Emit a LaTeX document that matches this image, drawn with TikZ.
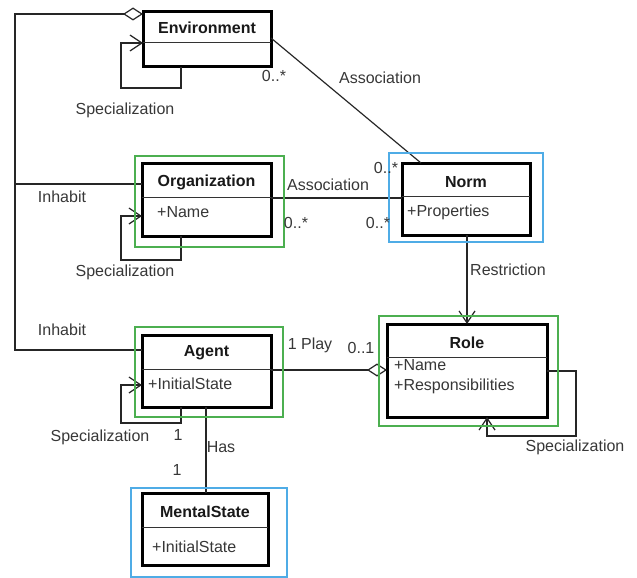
\documentclass[tikz,border=0pt]{standalone}
\usepackage{fontspec}
\setmainfont{Liberation Sans}
\usetikzlibrary{arrows.meta}
\definecolor{framegreen}{RGB}{76,175,80}
\definecolor{frameblue}{RGB}{79,172,230}
\definecolor{labelgray}{RGB}{55,55,55}
\begin{document}
\begin{tikzpicture}[x=1pt,y=-1pt,
  txt/.style={font=\fontsize{16}{19}\selectfont,inner sep=0pt},
  classbox/.style={draw=black,line width=3pt,fill=white,inner sep=0pt,outer sep=0pt},
  title/.style={txt,font=\fontsize{16}{19}\selectfont\bfseries,text=black!90},
  attr/.style={txt,text=labelgray,anchor=west},
  lbl/.style={txt,text=labelgray},
  divider/.style={line width=1pt,black!80},
  conn/.style={line width=1.2pt,black!85},
  spec/.style={conn,-{Straight Barb[length=12pt,width=16pt,line width=1.2pt]}},
  agg/.style={conn,-{Diamond[open,length=20pt,width=13pt,line width=1.2pt,fill=white]}},
  greenframe/.style={draw=framegreen,line width=1.8pt},
  blueframe/.style={draw=frameblue,line width=1.8pt}
]
\useasboundingbox (0,0) rectangle (637,578);

% rail on the left joining the Inhabit links
\coordinate (railtop) at (15,14);
\coordinate (orgjoin) at (15,184);

% class boxes
\node[classbox,minimum width=128pt,minimum height=55pt] (env) at (207,39.5) {};
\node[classbox,minimum width=129pt,minimum height=73pt] (org) at (206.5,199.5) {};
\node[classbox,minimum width=128pt,minimum height=72pt] (norm) at (466,199) {};
\node[classbox,minimum width=129pt,minimum height=72pt] (agent) at (206.5,371) {};
\node[classbox,minimum width=160pt,minimum height=93pt] (role) at (467,370.5) {};
\node[classbox,minimum width=126pt,minimum height=72pt] (ms) at (205,529) {};

% compartment dividers
\draw[divider] ([yshift=-31pt]env.north west) -- ([yshift=-31pt]env.north east);
\draw[divider] ([yshift=-34pt]org.north west) -- ([yshift=-34pt]org.north east);
\draw[divider] ([yshift=-33pt]norm.north west) -- ([yshift=-33pt]norm.north east);
\draw[divider] ([yshift=-34pt]agent.north west) -- ([yshift=-34pt]agent.north east);
\draw[divider] ([yshift=-33pt]role.north west) -- ([yshift=-33pt]role.north east);
\draw[divider] ([yshift=-34pt]ms.north west) -- ([yshift=-34pt]ms.north east);

% connectors
\draw[agg] ([yshift=21pt]agent.west) -| (railtop) -- ([yshift=25.5pt]env.west);
\draw[conn] ([yshift=15.5pt]org.west) -- (orgjoin);
\draw[spec] ([xshift=-26pt]env.south) -- ++(0,21) -- ++(-60,0) |- ([yshift=-3.5pt]env.west);
\draw[spec] ([xshift=-25.5pt]org.south) -- ++(0,24) -- ++(-60,0) |- ([yshift=-16.5pt]org.west);
\draw[spec] ([xshift=-25.5pt]agent.south) -- ++(0,16) -- ++(-60,0) |- ([yshift=-14pt]agent.west);
\draw[spec] ([yshift=-0.5pt]role.east) -- ++(29,0) -- ++(0,65) -| ([xshift=20pt]role.south);
\draw[conn] ([yshift=1.5pt]env.east) -- ([xshift=-45pt]norm.north);
\draw[conn] ([yshift=1.5pt]org.east) -- ([yshift=1pt]norm.west);
\draw[spec] ([xshift=1pt]norm.south) -- (role.north);
\draw[agg] ([yshift=1pt]agent.east) -- ([yshift=0.5pt]role.west);
\draw[conn] ([xshift=-0.5pt]agent.south) -- ([xshift=1pt]ms.north);

% class names and attributes
\node[title] (envT) at (207,28) {Environment};
\node[title] (orgT) at (206.5,182) {Organization};
\node[attr] (orgA) at (157,212) {+Name};
\node[title] (normT) at (466,182) {Norm};
\node[attr] (normA) at (407,212) {+Properties};
\node[title] (agentT) at (206.5,353) {Agent};
\node[attr] (agentA) at (148,384) {+InitialState};
\node[title] (roleT) at (467,343) {Role};
\node[attr] (roleA1) at (394,365) {+Name};
\node[attr] (roleA2) at (394,386) {+Responsibilities};
\node[title] (msT) at (205,512) {MentalState};
\node[attr] (msA) at (152,547) {+InitialState};

% highlight frames
\draw[greenframe] (135,156) rectangle (284,247);
\draw[greenframe] (135,327) rectangle (283,417);
\draw[greenframe] (379,316) rectangle (558,426);
\draw[blueframe] (389,153) rectangle (543,242);
\draw[blueframe] (131,488) rectangle (287,577);

% connector labels
\node[lbl] (l1) at (125,110) {Specialization};
\node[lbl] (l2) at (274,76) {0..*};
\node[lbl] (l3) at (380,78) {Association};
\node[lbl] (l4) at (386,168) {0..*};
\node[lbl] (l5) at (328,185) {Association};
\node[lbl] (l6) at (296,223) {0..*};
\node[lbl] (l7) at (378,223) {0..*};
\node[lbl] (l8) at (62,197) {Inhabit};
\node[lbl] (l9) at (125,272) {Specialization};
\node[lbl] (l10) at (62,330) {Inhabit};
\node[lbl] (l11) at (100,437) {Specialization};
\node[lbl] (l12) at (178,435) {1};
\node[lbl] (l13) at (221,447) {Has};
\node[lbl] (l14) at (177,470) {1};
\node[lbl] (l15) at (310,345) {1 Play};
\node[lbl] (l16) at (361,348) {0..1};
\node[lbl] (l17) at (508,270) {Restriction};
\node[lbl] (l18) at (575,447) {Specialization};
\end{tikzpicture}
\end{document}
